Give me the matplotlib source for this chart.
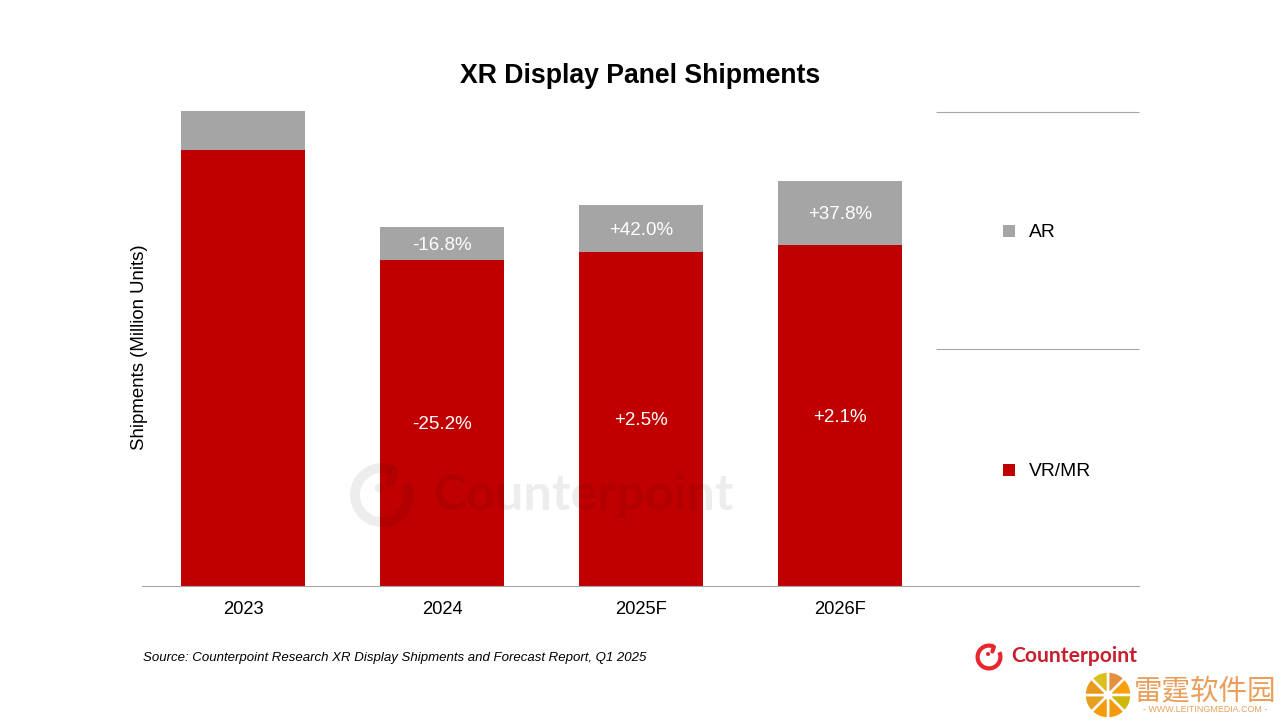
import matplotlib
matplotlib.use("Agg")
import matplotlib.pyplot as plt
from matplotlib.patches import Circle, Wedge

plt.rcParams['font.family'] = ['Liberation Sans', 'DejaVu Sans']

# Values (relative scale, the chart has no value axis)
categories = ['2023', '2024', '2025F', '2026F']
vr_mr = [4.36, 3.26, 3.34, 3.41]
ar = [0.39, 0.33, 0.47, 0.64]
vr_labels = ['', '-25.2%', '+2.5%', '+2.1%']
ar_labels = ['', '-16.8%', '+42.0%', '+37.8%']
title = 'XR Display Panel Shipments'
y_title = 'Shipments (Million Units)'
source = 'Source: Counterpoint Research XR Display Shipments and Forecast Report, Q1 2025'

W, H = 1280, 720
RED, GREY = '#c00000', '#a5a5a5'
LINE = '#a6a6a6'

fig = plt.figure(figsize=(W / 100, H / 100), dpi=100, facecolor='white')

# plot area in pixels: x 142..1139, baseline 586, top 111
ax = fig.add_axes([142 / W, 1 - 586 / H, (1139 - 142) / W, (586 - 111) / H])
ax.set_xlim((142 - 243) / 199, (1139 - 243) / 199)
ax.set_ylim(0, 4.75)
xs = range(len(categories))
b1 = ax.bar(xs, vr_mr, width=124 / 199, color=RED, zorder=2)
b2 = ax.bar(xs, ar, width=124 / 199, bottom=vr_mr, color=GREY, zorder=2)
ax.bar_label(b1, labels=vr_labels, label_type='center', padding=-1.4, color='white', fontsize=13.5, zorder=5)
ax.bar_label(b2, labels=ar_labels, label_type='center', padding=-1.4, color='white', fontsize=13.5, zorder=5)
ax.set_xticks(list(xs), categories, fontsize=13.2, color='black')
ax.tick_params(axis='x', length=0, pad=10.5)
ax.set_yticks([])
for s in ['top', 'left', 'right']:
    ax.spines[s].set_visible(False)
ax.spines['bottom'].set_color(LINE)
ax.spines['bottom'].set_linewidth(0.8)
ax.patch.set_alpha(0)

# overlay in pixel coordinates for legend table, texts and logos
ov = fig.add_axes([0, 0, 1, 1], zorder=3)
ov.set_xlim(0, W)
ov.set_ylim(H, 0)
ov.axis('off')
ov.patch.set_alpha(0)

ov.text(640, 76, title, ha='center', va='center', fontsize=19.2, fontweight='bold', color='black')
ov.text(139.5, 347, y_title, ha='center', va='center', rotation=90, fontsize=13.4, color='black')
ov.text(143, 658.5, source, ha='left', va='center', fontsize=9.52, style='italic', color='black')

# legend table
for y in (112, 349):
    ov.plot([936, 1139], [y, y], color=LINE, lw=0.8, solid_capstyle='butt')
for y, c, lab in ((231, GREY, 'AR'), (470, RED, 'VR/MR')):
    ov.scatter([1009], [y], marker='s', s=70, color=c, linewidths=0)
    ov.text(1029, y + 1.5, lab, ha='left', va='center', fontsize=13.9, color='black')


def logo(cx, cy, r, lw, color, alpha=1.0):
    # y axis is inverted, so angles run clockwise on screen
    ov.add_patch(Wedge((cx, cy), r, -25, 293, width=lw, color=color, alpha=alpha, linewidth=0))
    ov.plot([cx + r * 0.36, cx + r * 0.25], [cy - r * 0.75, cy - r * 0.41], color=color, alpha=alpha,
            lw=lw * 0.72, solid_capstyle='round')
    ov.add_patch(Circle((cx - r * 0.07, cy - r * 0.22), r * 0.15, color=color, alpha=alpha, linewidth=0))


# watermark
WM = (0, 0, 0)
logo(382, 495, 32, 10, WM, alpha=0.07)
ov.text(433, 495, 'Counterpoint', ha='left', va='center', fontsize=36.2, fontweight='bold',
        family=['Lato', 'DejaVu Sans'], color=WM, alpha=0.07)

# brand logo
BRAND = '#c8202f'
logo(989, 657, 13.5, 4.2, '#e8262d')
ov.text(1011, 656, 'Counterpoint', ha='left', va='center', fontsize=15.2, fontweight='bold',
        family=['Lato', 'DejaVu Sans'], color=BRAND)

# site mark
slice_colors = ['#e59040', '#fa9f0a', '#cfb70a', '#f59a0c', '#f59a0c', '#e6a020', '#e89a20', '#dcc020']
for i, c in enumerate(slice_colors):
    ov.add_patch(Wedge((1108, 695), 23.5, -90 + i * 45, -90 + (i + 1) * 45, width=23.5,
                       facecolor=c, edgecolor='white', linewidth=1.8))
ov.add_patch(Circle((1108, 695), 4.5, color='white', linewidth=0))
ov.text(1205, 691, '雷霆软件园', ha='center', va='center', fontsize=20.5, fontweight='medium',
        family=['Noto Sans CJK SC', 'DejaVu Sans'], color='#e99f5a')
ov.text(1205, 710, '- WWW.LEITINGMEDIA.COM -', ha='center', va='center', fontsize=6.4, color='#e8a05a')

fig.savefig('out.png', dpi=100)
